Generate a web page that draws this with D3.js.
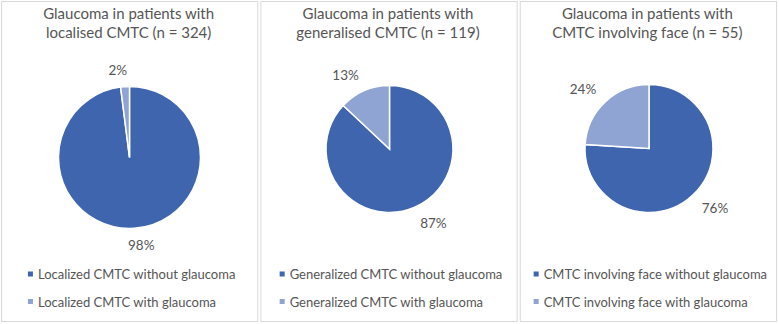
<!DOCTYPE html>
<html>
<head>
<meta charset="utf-8">
<script src="https://cdn.jsdelivr.net/npm/d3@7"></script>
<style>
  body { margin: 0; background: #fff; }
  text { font-family: Lato, "Open Sans", sans-serif; fill: #555; }
</style>
</head>
<body>
<div id="chart"></div>
<script>
// Data for the three panels
const titles = [
  ['Glaucoma in patients with', 'localised CMTC (n = 324)'],
  ['Glaucoma in patients with', 'generalised CMTC (n = 119)'],
  ['Glaucoma in patients with', 'CMTC involving face (n = 55)']
];
const categories = [
  ['Localized CMTC without glaucoma', 'Localized CMTC with glaucoma'],
  ['Generalized CMTC without glaucoma', 'Generalized CMTC with glaucoma'],
  ['CMTC involving face without glaucoma', 'CMTC involving face with glaucoma']
];
const withoutGlaucoma = [98, 87, 76];
const withGlaucoma = [2, 13, 24];
const colors = ['#3F65AF', '#8FA4D3'];

const width = 779, height = 324;
const svg = d3.select('#chart').append('svg')
  .attr('width', width)
  .attr('height', height);

// panel boxes
const panelX = d3.scaleBand().domain([0, 1, 2]).range([1, 777]).paddingInner(0.008);

const pieLayout = d3.pie().sort(null).value(d => d.value);

// per panel: pie centre and radius (the first pie is larger)
const pieCenters = [[129.5, 157.5], [389.5, 149], [649, 148.5]];
const pieRadius = [71, 63.5, 64];

titles.forEach((title, i) => {
  const x0 = panelX(i);
  const w = panelX.bandwidth();
  const g = svg.append('g');

  g.append('rect')
    .attr('x', x0 + 0.5)
    .attr('y', 1.5)
    .attr('width', w - 1)
    .attr('height', 320)
    .attr('fill', '#fff')
    .attr('stroke', '#d9d9d9')
    .attr('stroke-width', 1);

  // title
  const t = g.append('text')
    .attr('text-anchor', 'middle')
    .style('font-size', '15px');
  title.forEach((line, j) => {
    t.append('tspan')
      .attr('x', x0 + w / 2 - 1)
      .attr('y', 19 + j * 19)
      .text(line);
  });

  // pie
  const data = [
    { name: categories[i][0], value: withoutGlaucoma[i] },
    { name: categories[i][1], value: withGlaucoma[i] }
  ];
  const r = pieRadius[i];
  const arc = d3.arc().innerRadius(0).outerRadius(r);
  const arcs = pieLayout(data);
  const pg = g.append('g')
    .attr('transform', `translate(${pieCenters[i][0]},${pieCenters[i][1]})`);

  pg.selectAll('path')
    .data(arcs)
    .join('path')
    .attr('d', arc)
    .attr('fill', (d, k) => colors[k])
    .attr('stroke', '#fff')
    .attr('stroke-width', 1.5);

  // outside-end data labels
  pg.selectAll('text')
    .data(arcs)
    .join('text')
    .attr('text-anchor', 'middle')
    .attr('dominant-baseline', 'central')
    .style('font-size', '13.5px')
    .each(function(d) {
      const a = (d.startAngle + d.endAngle) / 2;
      const dx = Math.sin(a), dy = -Math.cos(a);
      const lr = r + 12;
      d3.select(this)
        .attr('x', dx * lr + 14 * Math.tanh(dx * 8))
        .attr('y', dy * lr + dy * 5);
    })
    .text(d => d.value + '%');

  // legend, centred in the panel
  const lg = g.append('g');
  let maxW = 0;
  data.forEach((d, k) => {
    const ly = 274 + k * 27.5;
    lg.append('rect')
      .attr('x', 0)
      .attr('y', ly - 2.5)
      .attr('width', 5)
      .attr('height', 5)
      .attr('fill', colors[k]);
    const lt = lg.append('text')
      .attr('x', 10)
      .attr('y', ly)
      .attr('dominant-baseline', 'central')
      .style('font-size', '13px')
      .text(d.name);
    maxW = Math.max(maxW, 10 + lt.node().getComputedTextLength());
  });
  lg.attr('transform', `translate(${x0 + w / 2 + 2 - maxW / 2},0)`);
});
</script>
</body>
</html>
